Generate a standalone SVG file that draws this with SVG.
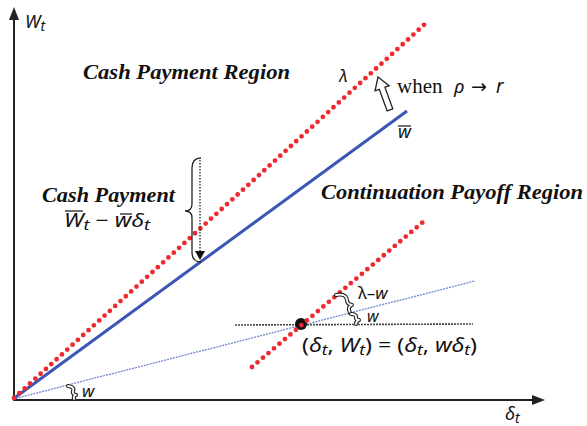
<svg xmlns="http://www.w3.org/2000/svg" width="587" height="426" viewBox="0 0 587 426">
<style>
.region{font-family:"Liberation Serif",serif;font-weight:bold;font-style:italic;font-size:22px;fill:#111}
.math{font-family:"Noto Sans","DejaVu Sans",sans-serif;font-style:italic;fill:#111}
.up{font-style:normal}
.serif{font-family:"Liberation Serif",serif;fill:#111}
.axis{stroke:#222;stroke-width:2;fill:none}
.red{stroke:#ee2a2e;stroke-width:4.8;stroke-linecap:round;stroke-dasharray:0 7.2;fill:none}
.blue{stroke:#3b56b5;stroke-width:3;fill:none}
.thinblue{stroke:#7186d2;stroke-width:1.3;stroke-dasharray:2 1;fill:none}
.hdot{stroke:#444;stroke-width:1.6;stroke-dasharray:2 1;fill:none}
.braceo{stroke:#222;stroke-width:4;fill:none;stroke-linecap:round;stroke-linejoin:round}
.bracei{stroke:#fff;stroke-width:1.8;fill:none;stroke-linecap:round;stroke-linejoin:round}
.ovl{stroke:#111;stroke-width:1.2}
</style>
<rect width="587" height="426" fill="#fff"/>
<g id="connectors">
  <g id="axes">
    <line class="axis" x1="14" y1="400" x2="14" y2="16"/>
    <polygon points="14,7 9,20 19,20" fill="#222"/>
    <line class="axis" x1="13" y1="400" x2="534" y2="400"/>
    <polygon points="545,400 532,395 532,405" fill="#222"/>
  </g>
  <line id="thin-w" class="thinblue" x1="13" y1="399" x2="475" y2="281"/>
  <line id="horizontal" class="hdot" x1="235" y1="325" x2="473" y2="324"/>
  <circle id="point" cx="301" cy="324" r="6" fill="#111"/>
  <line id="wbar-line" class="blue" x1="13" y1="399" x2="407" y2="111"/>
  <line id="lambda-line" class="red" x1="14" y1="398" x2="425" y2="24"/>
  <line id="lambda-local" class="red" x1="252" y1="367" x2="423" y2="222"/>
  <g id="cash-arrow">
    <line x1="200" y1="160" x2="200" y2="252" stroke="#222" stroke-width="1.3" stroke-dasharray="1.6 1.4"/>
    <polygon points="200,260 195,251 205,251" fill="#111"/>
  </g>
  <polygon id="shift-arrow" points="0,0 7.5,12 3,12 3,35 -3,35 -3,12 -7.5,12" fill="#fff" stroke="#222" stroke-width="1.3" transform="translate(378,77) rotate(-20)"/>
</g>
<g id="brace-cash">
  <path d="M201,158 Q192,158 192,168 L192,204 Q192,211 185,211 Q192,211 192,218 L192,252 Q192,262 201,262" fill="none" stroke="#222" stroke-width="1.3"/>
</g>
<g id="brace-lambda-w">
  <path class="braceo" d="M336,295 Q346,293 347,300 Q347,304 352,305 Q348,307 349,310 L350,313"/>
  <path class="bracei" d="M336,295 Q346,293 347,300 Q347,304 352,305 Q348,307 349,310 L350,313"/>
</g>
<g id="brace-w-small">
  <path class="braceo" d="M351,314 Q357,314 356,318 Q356,320 359,320 Q356,321 356,324"/>
  <path class="bracei" d="M351,314 Q357,314 356,318 Q356,320 359,320 Q356,321 356,324"/>
</g>
<g id="brace-origin">
  <path class="braceo" d="M68,386 Q75,387 73,391 Q72,394 76,395 Q73,396 74,399"/>
  <path class="bracei" d="M68,386 Q75,387 73,391 Q72,394 76,395 Q73,396 74,399"/>
</g>
<g id="label-Wt"><text class="math" x="25" y="28" font-size="18">W<tspan font-size="14" dy="3">t</tspan></text></g>
<g id="label-delta"><text class="math" x="505" y="420" font-size="18">δ<tspan font-size="14" dy="3">t</tspan></text></g>
<g id="label-cash-region"><text class="region" x="83" y="79" textLength="207" lengthAdjust="spacingAndGlyphs">Cash Payment Region</text></g>
<g id="label-cont-region"><text class="region" x="321" y="199" textLength="262" lengthAdjust="spacingAndGlyphs">Continuation Payoff Region</text></g>
<g id="label-cash-payment">
  <text class="region" x="42" y="202" textLength="133" lengthAdjust="spacingAndGlyphs">Cash Payment</text>
  <text class="math" x="64" y="227" font-size="19" textLength="86" lengthAdjust="spacingAndGlyphs">W<tspan font-size="15" dy="3">t</tspan><tspan class="up" dy="-3" dx="5">−</tspan><tspan dx="5">w</tspan>δ<tspan font-size="15" dy="3">t</tspan></text>
  <line class="ovl" x1="65" y1="211" x2="83" y2="211"/>
  <line class="ovl" x1="120" y1="214" x2="132" y2="214"/>
</g>
<g id="label-lambda"><text class="math" x="339" y="82" font-size="17">λ</text></g>
<g id="label-when">
  <text class="serif" x="397" y="93" font-size="21">when</text>
  <text class="math" x="454" y="93" font-size="19">ρ</text>
  <text class="math up" x="471" y="93" font-size="19">→</text>
  <text class="math" x="496" y="93" font-size="19">r</text>
</g>
<g id="label-wbar">
  <text class="math" x="398" y="138" font-size="18">w</text>
  <line class="ovl" x1="398" y1="126" x2="411" y2="126"/>
</g>
<g id="label-lambda-w"><text class="math" x="358" y="299" font-size="17"><tspan class="up">λ–</tspan>w</text></g>
<g id="label-w-small"><text class="math" x="367" y="322" font-size="16">w</text></g>
<g id="label-w-origin"><text class="math" x="82" y="397" font-size="17">w</text></g>
<g id="label-point">
  <text class="math" x="302" y="352" font-size="20" textLength="175" lengthAdjust="spacingAndGlyphs"><tspan class="up">(</tspan>δ<tspan font-size="15" dy="3">t</tspan><tspan class="up" dy="-3">, </tspan>W<tspan font-size="15" dy="3">t</tspan><tspan class="up" dy="-3">) = (</tspan>δ<tspan font-size="15" dy="3">t</tspan><tspan class="up" dy="-3">, </tspan>wδ<tspan font-size="15" dy="3">t</tspan><tspan class="up" dy="-3">)</tspan></text>
</g>
</svg>
